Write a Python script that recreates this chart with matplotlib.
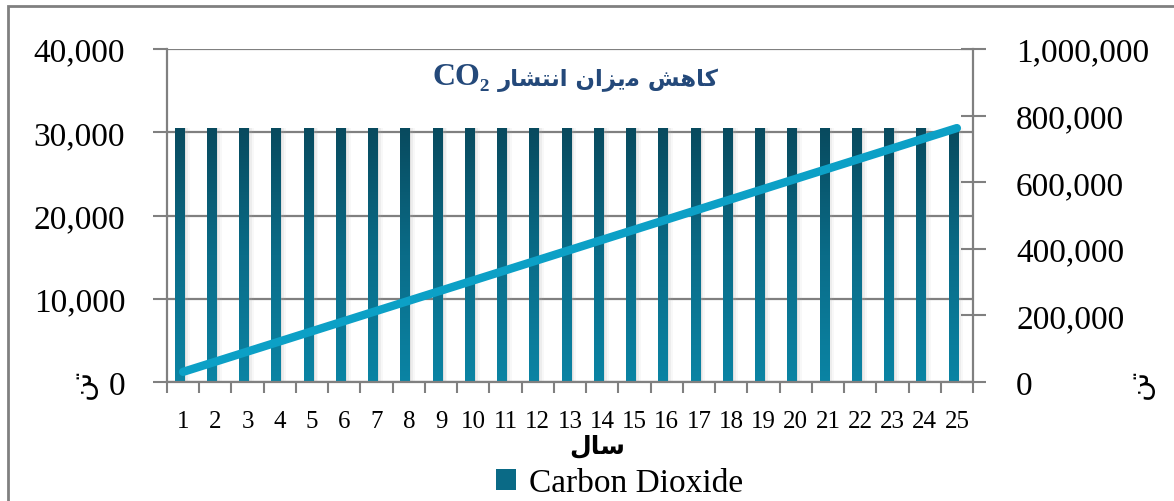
import numpy as np
import matplotlib
matplotlib.use('Agg')
import matplotlib.pyplot as plt
from matplotlib.patches import Rectangle
from matplotlib.ticker import FuncFormatter

# data
years = list(range(1, 26))
co2_yearly = [30500] * 25
co2_cumulative = [30500, 61000, 91500, 122000, 152500, 183000, 213500, 244000,
                  274500, 305000, 335500, 366000, 396500, 427000, 457500, 488000,
                  518500, 549000, 579500, 610000, 640500, 671000, 701500, 732000,
                  762500]
left_ticks = [0, 10000, 20000, 30000, 40000]
right_ticks = [0, 200000, 400000, 600000, 800000, 1000000]

# Persian strings in visual (left-to-right) order with presentation forms
title_fa = ('\uFEAD\uFE8E\uFEB8\uFE98\uFEE7\uFE8D \uFEE5\uFE8D\uFEB0\uFBFE\uFEE3 '
            '\uFEB6\uFEEB\uFE8E\uFB90')
xlabel_fa = '\uFEDD\uFE8E\uFEB3'
ylabel_fa = '\uFEE6\uFE97'
series_name = 'Carbon Dioxide'

serif = ['Liberation Serif', 'DejaVu Serif']
fa_font = ['DejaVu Sans']
grey = '#808080'

fig = plt.figure(figsize=(11.74, 5.02), dpi=100)
ax = fig.add_axes([0.1422, 0.237, 0.6866, 0.6634])
ax2 = ax.twinx()

x = np.array(years, dtype=float)
bar_x = x - 0.12
bar_w = 0.28

# soft bar shadows
for off, a in [(0.06, 0.22), (0.12, 0.14), (0.18, 0.08)]:
    ax.bar(bar_x + off, co2_yearly, width=bar_w, color='#b0b0b0', alpha=a,
           zorder=1.5, linewidth=0)
bars = ax.bar(bar_x, co2_yearly, width=bar_w, color='#0a6a86', zorder=2,
              linewidth=0, label=series_name)

# vertical gradient fill inside each bar
grad = np.linspace(1, 0, 256).reshape(-1, 1)
cmap = matplotlib.colors.LinearSegmentedColormap.from_list(
    'teal', ['#0b84a4', '#0a6c88', '#084a5e'])
for b in bars:
    ax.imshow(grad, cmap=cmap, aspect='auto', origin='upper',
              extent=[b.get_x(), b.get_x() + b.get_width(), 0, b.get_height()],
              zorder=2.1, interpolation='bilinear', vmin=0, vmax=1)

ax.set_xlim(0.5, 25.5)
ax.set_ylim(0, 40000)
ax.set_yticks(left_ticks)
ax.yaxis.set_major_formatter(FuncFormatter(lambda v, p: f'{int(v):,}'))
ax.grid(axis='y', color=grey, linewidth=1.6, zorder=1)
ax.set_axisbelow(True)

# category boundaries as ticks, labels at centers
ax.set_xticks(np.arange(0.5, 26, 1))
ax.set_xticklabels([])
ax.set_xticks(x, minor=True)
ax.set_xticklabels([str(y) for y in years], minor=True)
ax.tick_params(axis='x', which='major', direction='out', length=8, width=1.5,
               color=grey)
ax.tick_params(axis='x', which='minor', length=0, pad=20, labelsize=18)
ax.tick_params(axis='y', direction='out', length=10, width=1.5, color=grey,
               pad=20, labelsize=24)

ax2.plot(x, co2_cumulative, color='#0ca0c6', linewidth=6,
         solid_capstyle='round', zorder=3)
ax2.set_ylim(0, 1000000)
ax2.set_yticks(right_ticks)
ax2.yaxis.set_major_formatter(FuncFormatter(lambda v, p: f'{int(v):,}'))
ax2.tick_params(axis='y', direction='inout', length=18, width=1.5, color=grey,
                pad=22, labelsize=24)

for a in (ax, ax2):
    for s in a.spines.values():
        s.set_visible(False)
    for lab in a.get_yticklabels() + a.get_xticklabels(which='both'):
        lab.set_fontfamily(serif)
ax.spines['left'].set_visible(True)
ax.spines['bottom'].set_visible(True)
ax2.spines['right'].set_visible(True)
for s in (ax.spines['left'], ax.spines['bottom'], ax2.spines['right']):
    s.set_color(grey)
    s.set_linewidth(1.6)

# title
fig.text(0.424, 0.84, title_fa, family=fa_font, fontsize=16.5, fontweight='bold',
         color='#24497a', ha='left', va='center')
fig.text(0.417, 0.845, 'CO\u2082', family=serif, fontsize=23, fontweight='bold',
         color='#24497a', ha='right', va='center')

# axis titles
fig.text(0.509, 0.112, xlabel_fa, family=fa_font, fontsize=18,
         fontweight='bold', ha='center', va='center')
fig.text(0.071, 0.235, ylabel_fa, family=fa_font, fontsize=21, rotation=90,
         ha='center', va='center')
fig.text(0.971, 0.235, ylabel_fa, family=fa_font, fontsize=21, rotation=90,
         ha='center', va='center')

# legend
leg = fig.legend(handles=[bars], labels=[series_name], loc='center',
                 bbox_to_anchor=(0.528, 0.036), frameon=False,
                 prop={'family': serif, 'size': 24}, handlelength=0.6,
                 handleheight=0.6, handletextpad=0.4)

# outer chart border (right and bottom edges fall outside the image)
fig.patches.append(Rectangle((8 / 1174, -0.1), 1.2, 1.1 - 7 / 502,
                             transform=fig.transFigure, fill=False,
                             edgecolor=grey, linewidth=2))

fig.savefig('out.png', dpi=100)
